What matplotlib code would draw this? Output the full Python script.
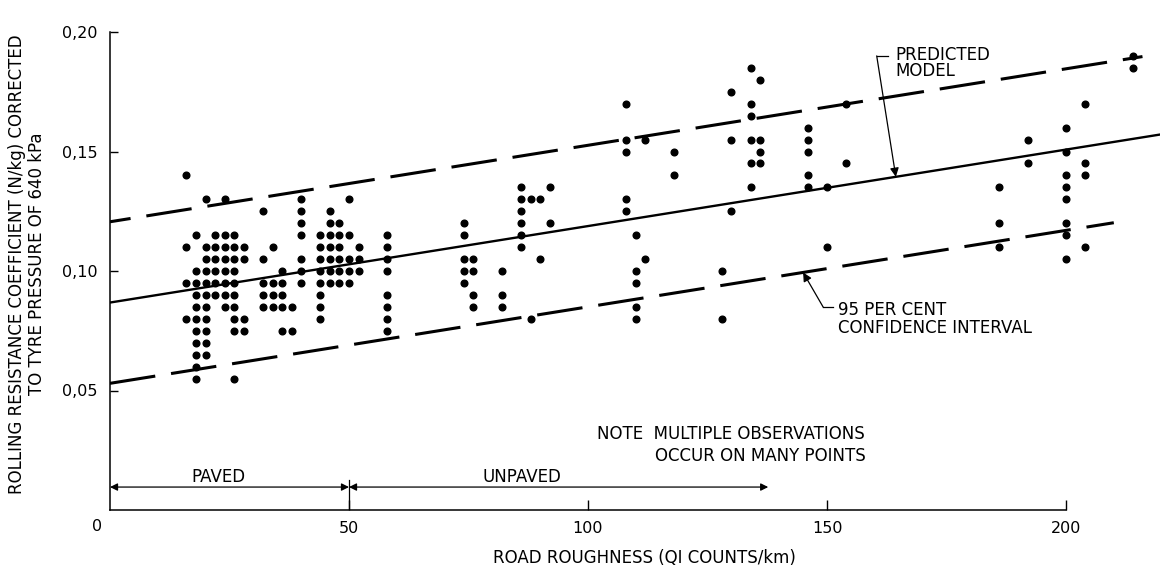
import numpy as np
import matplotlib
matplotlib.use('Agg')
import matplotlib.pyplot as plt

plt.rcParams['font.family'] = ['DejaVu Sans']
plt.rcParams['lines.scale_dashes'] = False

# ---------------- data ----------------
# paved roads: x = road roughness (QI counts/km), values = rolling resistance coefficients
paved_cols = [16, 18, 20, 22, 24, 26, 28, 32, 34, 36, 38, 40, 44, 46, 48, 50]
paved_vals = [
    [0.14, 0.11, 0.095, 0.08],
    [0.115, 0.10, 0.095, 0.09, 0.085, 0.08, 0.075, 0.07, 0.065, 0.06, 0.055],
    [0.13, 0.11, 0.105, 0.10, 0.095, 0.09, 0.085, 0.08, 0.075, 0.07, 0.065],
    [0.115, 0.11, 0.105, 0.10, 0.095, 0.09],
    [0.13, 0.115, 0.11, 0.105, 0.10, 0.095, 0.09, 0.085],
    [0.115, 0.11, 0.105, 0.10, 0.095, 0.09, 0.085, 0.08, 0.075, 0.055],
    [0.11, 0.105, 0.08, 0.075],
    [0.125, 0.105, 0.095, 0.09, 0.085],
    [0.11, 0.095, 0.09, 0.085],
    [0.10, 0.095, 0.09, 0.085, 0.075],
    [0.085, 0.075],
    [0.13, 0.125, 0.12, 0.115, 0.105, 0.10, 0.095],
    [0.115, 0.11, 0.105, 0.10, 0.095, 0.09, 0.085, 0.08],
    [0.125, 0.12, 0.115, 0.11, 0.105, 0.10, 0.095],
    [0.12, 0.115, 0.11, 0.105, 0.10, 0.095],
    [0.13, 0.115, 0.105, 0.10, 0.095],
]

# unpaved roads
unpaved_cols = [52, 58, 74, 76, 82, 86, 88, 90, 92, 108, 110, 112, 118, 128,
                130, 134, 136, 146, 150, 154, 186, 192, 200, 204, 214]
unpaved_vals = [
    [0.11, 0.105, 0.10],
    [0.115, 0.11, 0.105, 0.10, 0.09, 0.085, 0.08, 0.075],
    [0.12, 0.115, 0.105, 0.10, 0.095],
    [0.105, 0.10, 0.09, 0.085],
    [0.10, 0.09, 0.085],
    [0.135, 0.13, 0.125, 0.12, 0.115, 0.11],
    [0.13, 0.08],
    [0.13, 0.105],
    [0.135, 0.12],
    [0.17, 0.155, 0.15, 0.13, 0.125],
    [0.115, 0.10, 0.095, 0.085, 0.08],
    [0.155, 0.105],
    [0.15, 0.14],
    [0.10, 0.08],
    [0.175, 0.155, 0.125],
    [0.185, 0.17, 0.165, 0.155, 0.145, 0.135],
    [0.18, 0.155, 0.15, 0.145],
    [0.16, 0.155, 0.15, 0.14, 0.135],
    [0.135, 0.11],
    [0.17, 0.145],
    [0.135, 0.12, 0.11],
    [0.155, 0.145],
    [0.16, 0.15, 0.14, 0.135, 0.13, 0.12, 0.115, 0.105],
    [0.17, 0.145, 0.14, 0.11],
    [0.19, 0.185],
]

# predicted model and 95 per cent confidence band
model_intercept = 0.0868
model_slope = 0.00032
ci_half_width = 0.0338
model_x_end = 220
upper_x_end = 216
lower_x_end = 210

x_ticks = [50, 100, 150, 200]
x_tick_labels = ['50', '100', '150', '200']
y_ticks = [0.05, 0.10, 0.15, 0.20]
y_tick_labels = ['0,05', '0,10', '0,15', '0,20']

paved_limit = 50
unpaved_arrow_end = 137.7

# ---------------- figure ----------------
W, H = 1161, 568
FS = 12
fig = plt.figure(figsize=(W / 100, H / 100), dpi=100)
fig.patch.set_facecolor('white')
ax = fig.add_axes([110 / W, (H - 510) / H, 1050 / W, 478 / H])
ax.set_xlim(0, 1050 / 4.78)
ax.set_ylim(0, 0.2)

def model(x):
    return model_intercept + model_slope * np.asarray(x, dtype=float)

# observations
xs, ys = [], []
for cols, vals in ((paved_cols, paved_vals), (unpaved_cols, unpaved_vals)):
    for c, v in zip(cols, vals):
        xs.extend([c] * len(v))
        ys.extend(v)
ax.plot(xs, ys, linestyle='none', marker='o', ms=4.8, mfc='black', mec='black',
        zorder=3, clip_on=False)

# lines
xm = np.array([0, model_x_end])
ax.plot(xm, model(xm), color='black', lw=1.7, solid_capstyle='butt')
xu = np.array([0, upper_x_end])
ax.plot(xu, model(xu) + ci_half_width, color='black', lw=2.2,
        linestyle=(18, (33, 11.5)), dash_capstyle='butt')
xl = np.array([0, lower_x_end])
ax.plot(xl, model(xl) - ci_half_width, color='black', lw=2.2,
        linestyle=(0, (33, 11.5)), dash_capstyle='butt')

# axes styling
for s in ('top', 'right'):
    ax.spines[s].set_visible(False)
ax.spines['left'].set_bounds(0, 0.2)
ax.spines['bottom'].set_bounds(0, 200)
ax.spines['left'].set_linewidth(1.1)
ax.spines['bottom'].set_linewidth(1.1)

ax.set_xticks(x_ticks)
ax.set_xticklabels(x_tick_labels)
ax.set_yticks(y_ticks)
ax.set_yticklabels(y_tick_labels)
ax.tick_params(axis='x', direction='in', length=7, width=1, pad=8, labelsize=11.5)
ax.tick_params(axis='y', direction='in', length=6, width=1, pad=9, labelsize=11.5)
ax.text(-2.7, -0.0071, '0', ha='center', va='center', fontsize=11.5, clip_on=False)

# axis titles
ax.text(111.9, -0.0201, 'ROAD ROUGHNESS (QI COUNTS/km)', ha='center', va='center',
        fontsize=FS, clip_on=False)
fig.text(27 / W, 1 - 264 / H,
         'ROLLING RESISTANCE COEFFICIENT (N/kg) CORRECTED\nTO TYRE PRESSURE OF 640 kPa',
         rotation=90, ha='center', va='center', multialignment='center', fontsize=FS)

# paved / unpaved arrows
arrow_y = 0.0096
label_y = 0.0138
aprops = dict(arrowstyle='<|-|>', lw=0.9, color='black', mutation_scale=11,
              shrinkA=0, shrinkB=0)
ax.annotate('', xy=(0, arrow_y), xytext=(paved_limit, arrow_y), arrowprops=aprops)
ax.annotate('', xy=(paved_limit, arrow_y), xytext=(unpaved_arrow_end, arrow_y),
            arrowprops=aprops)
ax.plot([paved_limit, paved_limit], [0, 0.0126], color='black', lw=0.9)
ax.text(22.6, label_y, 'PAVED', ha='center', va='center', fontsize=FS)
ax.text(86.2, label_y, 'UNPAVED', ha='center', va='center', fontsize=FS)

# note
ax.text(101.8, 0.0318, 'NOTE  MULTIPLE OBSERVATIONS', ha='left', va='center', fontsize=FS)
ax.text(114.0, 0.0226, 'OCCUR ON MANY POINTS', ha='left', va='center', fontsize=FS)

# predicted model label
tip_x = 164.4
ax.plot([162.8, 160.4], [0.19, 0.19], color='black', lw=0.9)
ax.annotate('', xy=(tip_x, float(model(tip_x))), xytext=(160.4, 0.19),
            arrowprops=dict(arrowstyle='-|>', lw=0.9, color='black', mutation_scale=13,
                            shrinkA=0, shrinkB=0))
ax.text(164.2, 0.1869, 'PREDICTED\nMODEL', ha='left', va='center', fontsize=FS,
        linespacing=0.85, multialignment='left')

# confidence interval label
ci_tip_x = 145.0
ax.plot([149.2, 151.3], [0.0849, 0.0849], color='black', lw=0.9)
ax.annotate('', xy=(ci_tip_x, float(model(ci_tip_x)) - ci_half_width),
            xytext=(149.2, 0.0849),
            arrowprops=dict(arrowstyle='-|>', lw=0.9, color='black', mutation_scale=13,
                            shrinkA=0, shrinkB=0))
ax.text(152.3, 0.08, '95 PER CENT\nCONFIDENCE INTERVAL', ha='left', va='center',
        fontsize=FS, linespacing=1.0, multialignment='left')

fig.savefig('out.png', dpi=100, facecolor='white')
